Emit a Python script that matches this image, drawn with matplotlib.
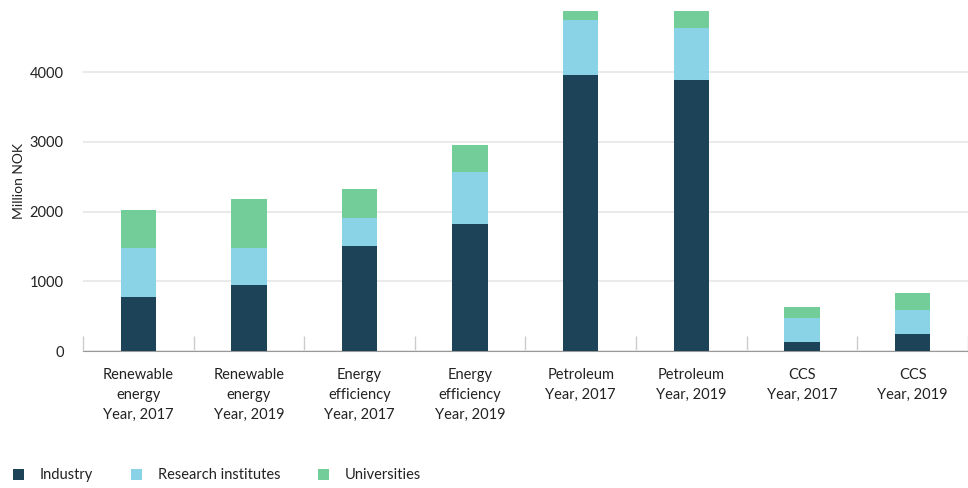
import numpy as np
import matplotlib.pyplot as plt
from matplotlib.patches import Patch

plt.rcParams['font.family'] = ['Lato', 'DejaVu Sans']

# Values (million NOK)
categories = ['Renewable\nenergy\nYear, 2017', 'Renewable\nenergy\nYear, 2019',
              'Energy\nefficiency\nYear, 2017', 'Energy\nefficiency\nYear, 2019',
              'Petroleum\nYear, 2017', 'Petroleum\nYear, 2019',
              'CCS\nYear, 2017', 'CCS\nYear, 2019']
industry = [775, 945, 1505, 1820, 3960, 3885, 130, 245]
research = [700, 530, 400, 745, 795, 745, 345, 345]
universities = [545, 700, 415, 390, 400, 650, 155, 245]

colors = ['#1d4359', '#8ad3e6', '#72cd98']
names = ['Industry', 'Research institutes', 'Universities']

fig = plt.figure(figsize=(9.68, 4.88), dpi=100)
ax = fig.add_axes([0.0857, 0.2807, 0.9143, 0.6963])

x = np.arange(len(categories))
w = 0.32
ind = np.array(industry)
res = np.array(research)
uni = np.array(universities)
ax.bar(x, ind, w, color=colors[0], zorder=3)
ax.bar(x, res, w, bottom=ind, color=colors[1], zorder=3)
ax.bar(x, uni, w, bottom=ind + res, color=colors[2], zorder=3)

ax.set_xlim(-0.5, 7.40)
ax.set_ylim(0, 4875)
ax.set_yticks([0, 1000, 2000, 3000, 4000])
ax.yaxis.grid(True, color='#e6e6e6', linewidth=1.2, zorder=0)
ax.set_ylabel('Million NOK', fontsize=10, color='#222222')
ax.yaxis.set_label_coords(-0.066, 0.5)

for s in ['top', 'right', 'left']:
    ax.spines[s].set_visible(False)
ax.spines['bottom'].set_color('#999999')

ax.tick_params(axis='y', length=0, pad=14, labelsize=10.5, labelcolor='#222222')
ax.set_xticks(x)
ax.set_xticklabels(categories, fontsize=10.5, color='#222222', linespacing=1.55)
ax.tick_params(axis='x', length=0, pad=12)
ax.set_xticks(np.arange(-0.5, 8, 1), minor=True)
ax.tick_params(axis='x', which='minor', direction='in', length=11, color='#cccccc', width=1)

handles = [Patch(facecolor=c, edgecolor='none') for c in colors]
fig.legend(handles, names, loc='center left', bbox_to_anchor=(0.013, 0.026), ncol=3,
           frameon=False, fontsize=10.5, handlelength=0.75, handleheight=0.75,
           handletextpad=1.1, columnspacing=2.6, labelcolor='#222222',
           borderaxespad=0, borderpad=0)

fig.savefig('out.png', dpi=100)
